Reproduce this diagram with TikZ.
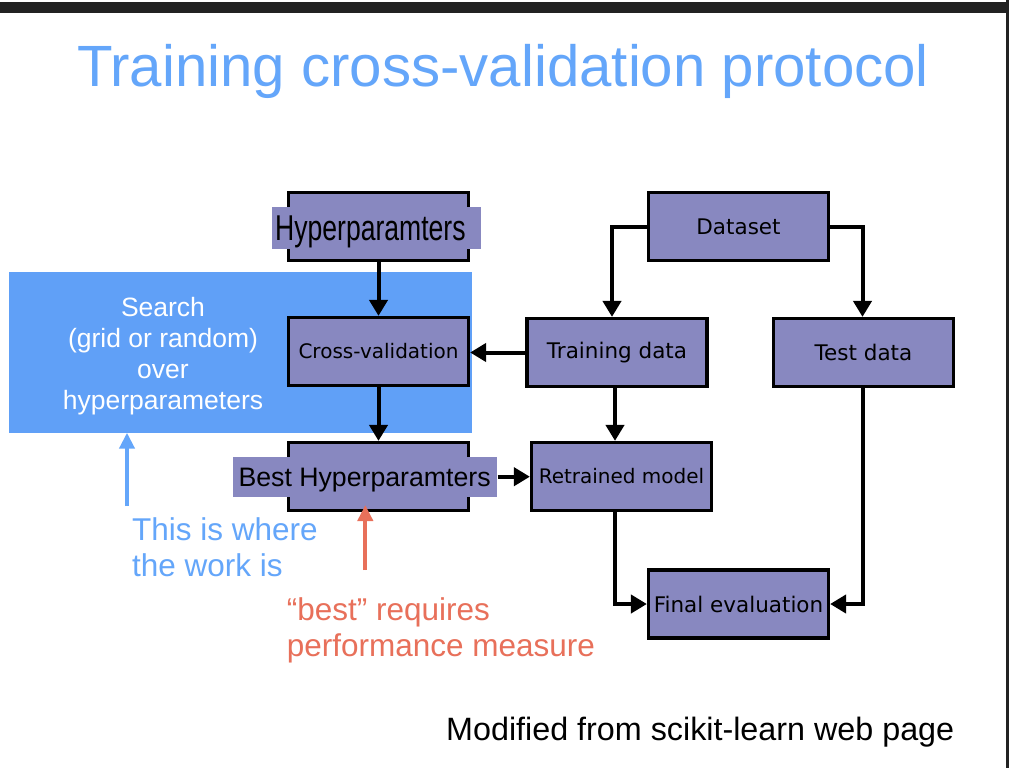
\documentclass[tikz,border=0pt]{standalone}
\usepackage{fontspec}
\setmainfont{Liberation Sans}
\newfontfamily\dejavu{DejaVu Sans}
\usetikzlibrary{arrows.meta}
\definecolor{boxfill}{RGB}{136,136,192}
\definecolor{searchblue}{RGB}{96,160,247}
\definecolor{titleblue}{RGB}{100,166,250}
\definecolor{notered}{RGB}{232,112,90}
\definecolor{barcol}{RGB}{34,34,34}
\begin{document}
\begin{tikzpicture}[x=1pt,y=-1pt,
  box/.style={draw=black, line width=3.2pt, fill=boxfill, minimum width=180pt, minimum height=68pt, inner sep=0pt, text=black, font=\dejavu\fontsize{21.5}{24}\selectfont},
  smallbox/.style={box, font=\dejavu\fontsize{20}{23}\selectfont},
  lblbg/.style={fill=boxfill, inner sep=0pt},
  lbltxt/.style={anchor=base west, inner sep=0pt, text=black},
  arr/.style={line width=4pt, -{Triangle[length=16pt,width=18pt]}},
  notearr/.style={line width=4pt, -{Triangle[length=16pt,width=15pt]}},
  plain/.style={anchor=base west, inner sep=0pt},
  searchtxt/.style={anchor=base, inner sep=0pt, text=white, font=\fontsize{26.5}{30}\selectfont},
  note/.style={plain, font=\fontsize{31.5}{36}\selectfont}
]
\useasboundingbox (0,0) rectangle (1009,768);
\fill[white] (0,0) rectangle (1009,768);
% top bar and right border
\fill[barcol] (0,2) rectangle (1009,13);
\fill[barcol] (1006,0) rectangle (1009,768);

% title
\node[plain, text=titleblue, font=\fontsize{58.2}{64}\selectfont] (title) at (77,86) {Training cross-validation protocol};

% search area
\node[fill=searchblue, inner sep=0pt, minimum width=463.5pt, minimum height=160.5pt] (search) at (240.25,352.25) {};
\node[searchtxt] (s1) at (163,316) {Search};
\node[searchtxt] (s2) at (163,347) {(grid or random)};
\node[searchtxt] (s3) at (163,378) {over};
\node[searchtxt] (s4) at (163,409) {hyperparameters};

% boxes
\node[box] (hyp) at (378.5,226.5) {};
\node[lblbg, minimum width=209pt, minimum height=42.6pt] (hyplbl) at (376.5,228) {};
\node[lbltxt, font=\fontsize{35.9}{40}\selectfont] (hyptxt) at (275,240.7) {\scalebox{0.74}[1]{Hyperparamters}};

\node[smallbox] (cv) at (378.5,351.5) {Cross-validation};

\node[box] (best) at (378.5,476.5) {};
\node[lblbg, minimum width=264.6pt, minimum height=40pt] (bestlbl) at (365,476.7) {};
\node[lbltxt, font=\fontsize{26.7}{30}\selectfont] (besttxt) at (238.3,486.7) {Best Hyperparamters};

\node[box] (ds) at (738.5,226.5) {Dataset};
\node[box] (train) at (617,352.5) {Training data};
\node[box] (test) at (863.5,352.5) {Test data};
\node[smallbox] (ret) at (621.5,476.5) {Retrained model};
\node[box] (fin) at (738.5,604) {Final evaluation};

% connectors
\draw[arr] (hyp.south) -- (cv.north);
\draw[arr] (cv.south) -- (best.north);
\draw[arr] (train.west) -- (train.west -| cv.east);
\draw[arr] (ds.west) -| ([xshift=-5pt]train.north);
\draw[arr] (ds.east) -| ([xshift=-1pt]test.north);
\draw[arr] ([xshift=-2pt]train.south) -- ([xshift=-2pt]train.south |- ret.north);
\draw[arr] (bestlbl.east) -- (bestlbl.east -| ret.west);
\draw[arr] ([xshift=-6.5pt]ret.south) |- (fin.west);
\draw[arr] ([xshift=-1pt]test.south) |- (fin.east);

% annotations
\coordinate (bstart) at (127,506);
\draw[notearr, draw=titleblue, fill=titleblue] (bstart) -- (bstart |- search.south);
\node[note, text=titleblue] (w1) at (132,540.7) {This is where};
\node[note, text=titleblue] (w2) at (132,576.7) {the work is};

\coordinate (rstart) at (365.3,570);
\coordinate (rend) at (365.3,505);
\draw[notearr, draw=notered, fill=notered] (rstart) -- (rend);
\node[note, text=notered] (b1) at (286.7,620) {“best” requires};
\node[note, text=notered] (b2) at (286.7,656.7) {performance measure};

\node[plain, font=\fontsize{32.3}{36}\selectfont] (src) at (446,740.7) {Modified from scikit-learn web page};
\end{tikzpicture}
\end{document}
